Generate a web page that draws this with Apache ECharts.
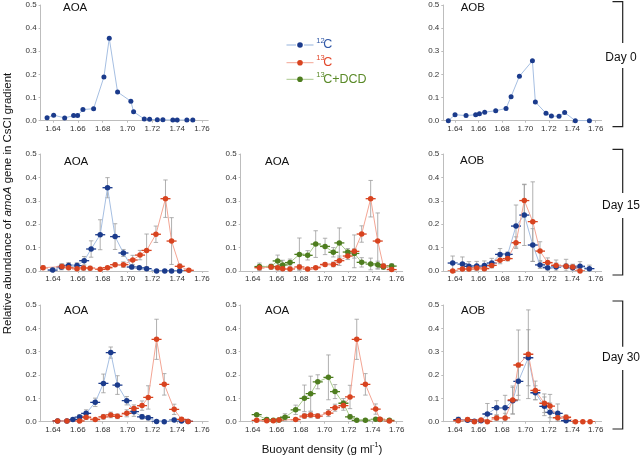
<!DOCTYPE html>
<html><head><meta charset="utf-8">
<script src="https://cdn.jsdelivr.net/npm/echarts@6/dist/echarts.min.js"></script>
<style>html,body{margin:0;padding:0;background:#fff}#c{width:640px;height:456px}</style>
</head><body><div id="c"></div><script>
// ---------- tick labels ----------
const xTicks = [1.64, 1.66, 1.68, 1.70, 1.72, 1.74, 1.76];
const panelTitles = ['AOA', 'AOB', 'AOA', 'AOA', 'AOB', 'AOA', 'AOA', 'AOB'];
const dayLabels = ['Day 0', 'Day 15', 'Day 30'];

// ---------- Day 0, AOA ----------
const d0AOA_12C_x = [1.6352,1.6405,1.6494,1.6566,1.6598,1.6641,1.6727,1.681,1.6853,1.692,1.7027,1.7049,1.7135,1.7178,1.724,1.7285,1.7365,1.740,1.7478,1.7526];
const d0AOA_12C_y = [0.013,0.024,0.012,0.022,0.022,0.048,0.052,0.189,0.356,0.124,0.084,0.039,0.007,0.006,0.004,0.004,0.003,0.003,0.003,0.003];
// ---------- Day 0, AOB ----------
const d0AOB_12C_x = [1.6343,1.640,1.6494,1.6576,1.6608,1.6653,1.6747,1.6835,1.6878,1.6949,1.706,1.7085,1.7176,1.7222,1.7287,1.7335,1.7426,1.7546];
const d0AOB_12C_y = [0.0,0.026,0.022,0.026,0.030,0.037,0.043,0.053,0.104,0.192,0.259,0.081,0.032,0.020,0.019,0.035,0.0,0.0];

// ---------- Day 15, AOA (12C vs 13C) ----------
const d15AOA_12C_x = [1.6397,1.6467,1.6526,1.6593,1.6651,1.6707,1.678,1.6839,1.69,1.6967,1.7034,1.7095,1.7154,1.7234,1.73,1.7355,1.742];
const d15AOA_12C_y = [0.004,0.017,0.024,0.023,0.044,0.094,0.155,0.356,0.147,0.077,0.017,0.014,0.010,0.0,0.0,0.0,0.0];
const d15AOA_12C_e = [0.01,0.012,0.012,0.012,0.018,0.035,0.064,0.043,0.055,0.015,0.008,0.006,0.005,0.003,0.003,0.003,0.003];
const d15AOA_13C_x = [1.632,1.6472,1.6526,1.6593,1.6646,1.6699,1.678,1.6839,1.69,1.6967,1.7042,1.7101,1.7154,1.7229,1.7306,1.7355,1.7421,1.7494];
const d15AOA_13C_y = [0.014,0.019,0.014,0.010,0.013,0.012,0.007,0.014,0.027,0.027,0.047,0.068,0.088,0.157,0.309,0.128,0.020,0.003];
const d15AOA_13C_e = [0.008,0.012,0.008,0.006,0.01,0.008,0.004,0.006,0.008,0.012,0.02,0.02,0.07,0.035,0.08,0.1,0.01,0.004];

// ---------- Day 15, AOA (13C vs 13C+DCD) ----------
const d15DCD_13CDCD_x = [1.6456,1.6553,1.6608,1.665,1.6711,1.6789,1.6858,1.6925,1.7003,1.7072,1.7122,1.7192,1.7247,1.7308,1.7383,1.7442,1.7489,1.7558];
const d15DCD_13CDCD_y = [0.019,0.019,0.043,0.026,0.036,0.071,0.067,0.115,0.105,0.080,0.120,0.081,0.075,0.037,0.030,0.027,0.017,0.021];
const d15DCD_13CDCD_e = [0.015,0.01,0.025,0.02,0.015,0.07,0.02,0.057,0.035,0.02,0.064,0.015,0.02,0.02,0.025,0.015,0.01,0.01];
const d15DCD_13C_x = [1.6456,1.6553,1.6608,1.665,1.6711,1.6789,1.6858,1.6925,1.7003,1.7072,1.7122,1.7192,1.7247,1.7308,1.7383,1.7442,1.7489,1.7558];
const d15DCD_13C_y = [0.014,0.017,0.014,0.010,0.009,0.017,0.009,0.014,0.028,0.028,0.044,0.064,0.084,0.158,0.309,0.128,0.021,0.006];
const d15DCD_13C_e = [0.01,0.01,0.01,0.008,0.006,0.01,0.005,0.006,0.008,0.01,0.02,0.015,0.07,0.035,0.078,0.12,0.01,0.005];

// ---------- Day 15, AOB ----------
const d15AOB_12C_x = [1.638,1.6463,1.6519,1.6585,1.665,1.6713,1.6784,1.6849,1.692,1.6991,1.7063,1.7125,1.719,1.7262,1.7347,1.7404,1.7466,1.7546];
const d15AOB_12C_y = [0.034,0.030,0.020,0.021,0.023,0.034,0.071,0.071,0.192,0.239,0.111,0.026,0.014,0.017,0.020,0.014,0.020,0.010];
const d15AOB_12C_e = [0.03,0.03,0.02,0.02,0.02,0.02,0.025,0.01,0.09,0.13,0.07,0.015,0.015,0.03,0.03,0.015,0.02,0.015];
const d15AOB_13C_x = [1.638,1.6463,1.6519,1.6585,1.665,1.6713,1.6784,1.6849,1.692,1.6991,1.7063,1.7125,1.719,1.7262,1.7347,1.7404,1.7466];
const d15AOB_13C_y = [0.0,0.009,0.009,0.013,0.010,0.024,0.046,0.053,0.121,0.301,0.211,0.085,0.036,0.024,0.020,0.017,0.0];
const d15AOB_13C_e = [0.003,0.008,0.008,0.008,0.006,0.01,0.015,0.01,0.025,0.07,0.17,0.04,0.02,0.01,0.01,0.01,0.003];

// ---------- Day 30, AOA (12C vs 13C) ----------
const d30AOA_12C_x = [1.6437,1.6512,1.656,1.6614,1.6667,1.674,1.6806,1.6865,1.6919,1.6994,1.7052,1.7117,1.7167,1.7234,1.7296,1.7376,1.7435,1.7488];
const d30AOA_12C_y = [0.003,0.003,0.009,0.020,0.036,0.083,0.164,0.296,0.157,0.090,0.043,0.021,0.017,0.001,0.0,0.007,0.003,0.001];
const d30AOA_12C_e = [0.004,0.004,0.006,0.01,0.015,0.018,0.04,0.024,0.04,0.018,0.02,0.01,0.01,0.003,0.003,0.008,0.004,0.003];
const d30AOA_13C_x = [1.6437,1.6512,1.6614,1.6667,1.674,1.6806,1.6865,1.6919,1.6994,1.7052,1.7117,1.7167,1.7234,1.7296,1.7376,1.7435,1.7488];
const d30AOA_13C_y = [0.003,0.003,0.003,0.019,0.009,0.021,0.029,0.023,0.036,0.057,0.069,0.104,0.353,0.160,0.053,0.010,0.001];
const d30AOA_13C_e = [0.003,0.003,0.003,0.01,0.005,0.01,0.012,0.01,0.015,0.015,0.02,0.05,0.086,0.046,0.022,0.008,0.003];

// ---------- Day 30, AOA (13C vs 13C+DCD) ----------
const d30DCD_13CDCD_x = [1.6433,1.6517,1.6572,1.6619,1.6669,1.6758,1.6831,1.6883,1.6942,1.7031,1.7086,1.7156,1.7211,1.7267,1.7339,1.7425,1.7461,1.7539];
const d30DCD_13CDCD_y = [0.030,0.009,0.006,0.007,0.019,0.051,0.100,0.120,0.171,0.190,0.129,0.079,0.021,0.006,0.006,0.010,0.009,0.006];
const d30DCD_13CDCD_e = [0.005,0.008,0.005,0.005,0.015,0.02,0.057,0.075,0.03,0.096,0.03,0.02,0.01,0.005,0.005,0.005,0.005,0.005];
const d30DCD_13C_x = [1.6433,1.6517,1.6572,1.6619,1.6758,1.6831,1.6883,1.6942,1.7031,1.7086,1.7156,1.7211,1.7267,1.7339,1.7425,1.7461,1.7539];
const d30DCD_13C_y = [0.006,0.004,0.004,0.007,0.009,0.024,0.029,0.024,0.037,0.060,0.069,0.106,0.353,0.160,0.054,0.010,0.003];
const d30DCD_13C_e = [0.003,0.003,0.003,0.004,0.005,0.01,0.012,0.01,0.015,0.015,0.02,0.05,0.086,0.046,0.022,0.008,0.003];

// ---------- Day 30, AOB ----------
const d30AOB_12C_x = [1.6428,1.6507,1.6565,1.6622,1.6676,1.6755,1.6827,1.6892,1.694,1.7025,1.7085,1.7162,1.721,1.7276,1.7347];
const d30AOB_12C_y = [0.009,0.006,0.002,0.004,0.033,0.060,0.060,0.090,0.173,0.274,0.124,0.066,0.040,0.036,0.004];
const d30AOB_12C_e = [0.01,0.006,0.003,0.004,0.045,0.03,0.053,0.057,0.06,0.12,0.03,0.04,0.04,0.04,0.004];
const d30AOB_13C_x = [1.6428,1.6507,1.6565,1.6622,1.6676,1.6755,1.6827,1.6892,1.694,1.7025,1.7085,1.7162,1.721,1.7276,1.7347,1.7427,1.749,1.7552];
const d30AOB_13C_y = [0.004,0.009,0.0,0.007,0.0,0.016,0.016,0.093,0.243,0.289,0.134,0.079,0.067,0.017,0.019,0.0,0.0,0.0];
const d30AOB_13C_e = [0.004,0.008,0.002,0.006,0.002,0.01,0.02,0.06,0.15,0.19,0.04,0.04,0.05,0.01,0.01,0.002,0.002,0.002];

// ---------- styles ----------
const FONT = "'Liberation Sans', Arial, sans-serif";
const STY = {
  '12C':     {mark:'#1b3b8c', line:'#a6bfe2', text:'#2f57a6'},
  '13C':     {mark:'#d8431f', line:'#f3a594', text:'#e2472a'},
  '13C+DCD': {mark:'#4e7d1f', line:'#a9c98c', text:'#5a8a28'}
};
const ERR_COLOR = '#9c9c9c';

const grids = [
  {left:40.6, top:5,   width:167.6, height:115.7},
  {left:443.3,top:5,   width:158.3, height:115.7},
  {left:40.6, top:154, width:167.6, height:117},
  {left:240.7,top:154, width:162,   height:117},
  {left:443.3,top:154, width:158.3, height:117},
  {left:40.6, top:305, width:167.6, height:116.7},
  {left:240.7,top:305, width:162,   height:116.7},
  {left:443.3,top:305, width:158.3, height:116.7}
];
const titlePos = [[63,8.5],[460.7,8.5],[64,162],[265,162],[460,161],[64,311.7],[265,311.5],[461,311.7]];

const panels = [
  [{k:'12C', x:d0AOA_12C_x, y:d0AOA_12C_y}],
  [{k:'12C', x:d0AOB_12C_x, y:d0AOB_12C_y}],
  [{k:'12C', x:d15AOA_12C_x, y:d15AOA_12C_y, e:d15AOA_12C_e},{k:'13C', x:d15AOA_13C_x, y:d15AOA_13C_y, e:d15AOA_13C_e}],
  [{k:'13C+DCD', x:d15DCD_13CDCD_x, y:d15DCD_13CDCD_y, e:d15DCD_13CDCD_e},{k:'13C', x:d15DCD_13C_x, y:d15DCD_13C_y, e:d15DCD_13C_e}],
  [{k:'12C', x:d15AOB_12C_x, y:d15AOB_12C_y, e:d15AOB_12C_e},{k:'13C', x:d15AOB_13C_x, y:d15AOB_13C_y, e:d15AOB_13C_e}],
  [{k:'12C', x:d30AOA_12C_x, y:d30AOA_12C_y, e:d30AOA_12C_e},{k:'13C', x:d30AOA_13C_x, y:d30AOA_13C_y, e:d30AOA_13C_e}],
  [{k:'13C+DCD', x:d30DCD_13CDCD_x, y:d30DCD_13CDCD_y, e:d30DCD_13CDCD_e},{k:'13C', x:d30DCD_13C_x, y:d30DCD_13C_y, e:d30DCD_13C_e}],
  [{k:'12C', x:d30AOB_12C_x, y:d30AOB_12C_y, e:d30AOB_12C_e},{k:'13C', x:d30AOB_13C_x, y:d30AOB_13C_y, e:d30AOB_13C_e}]
];

function errRender(color){
  return function(params, api){
    const x = api.value(0), y = api.value(1), e = api.value(2);
    const p = api.coord([x, y]);
    const hi = api.coord([x, y + e]);
    const lo = api.coord([x, Math.max(0, y - e)]);
    const cap = 2.2, hw = 5;
    const gs = {stroke: ERR_COLOR, lineWidth: 0.8};
    return {type:'group', children:[
      {type:'line', shape:{x1:p[0], y1:hi[1], x2:p[0], y2:lo[1]}, style:gs},
      {type:'line', shape:{x1:p[0]-cap, y1:hi[1], x2:p[0]+cap, y2:hi[1]}, style:gs},
      {type:'line', shape:{x1:p[0]-cap, y1:lo[1], x2:p[0]+cap, y2:lo[1]}, style:gs},
      {type:'line', shape:{x1:p[0]-hw, y1:p[1], x2:p[0]+hw, y2:p[1]}, style:{stroke:color, lineWidth:1.3}}
    ]};
  };
}

const xAxis = [], yAxis = [], series = [];
grids.forEach((g, i) => {
  xAxis.push({
    type:'value', gridIndex:i, min:1.63, max:1.765,
    axisLine:{show:true, onZero:false, lineStyle:{color:'#bdbdbd', width:1}},
    axisTick:{show:true, length:2, customValues:xTicks, lineStyle:{color:'#bdbdbd'}},
    axisLabel:{customValues:xTicks, formatter:v => v.toFixed(2), fontSize:8, color:'#333', margin:4, fontFamily:FONT},
    splitLine:{show:false}
  });
  yAxis.push({
    type:'value', gridIndex:i, min:0, max:0.5, interval:0.1,
    axisLine:{show:true, lineStyle:{color:'#bdbdbd', width:1}},
    axisTick:{show:true, length:2, lineStyle:{color:'#bdbdbd'}},
    axisLabel:{formatter:v => v.toFixed(1), fontSize:8, color:'#333', margin:4, fontFamily:FONT},
    splitLine:{show:false}
  });
  panels[i].forEach(s => {
    const st = STY[s.k];
    if (s.e) {
      series.push({
        type:'custom', xAxisIndex:i, yAxisIndex:i, z:3, clip:true,
        encode:{x:0, y:1}, silent:true,
        data:s.x.map((v, j) => [v, s.y[j], s.e[j]]),
        renderItem:errRender(st.mark)
      });
    }
    series.push({
      type:'line', xAxisIndex:i, yAxisIndex:i, z:4,
      data:s.x.map((v, j) => [v, s.y[j]]),
      symbol:'circle', symbolSize: s.e ? 5.5 : 5, showAllSymbol:true,
      itemStyle:{color:st.mark}, lineStyle:{color:st.line, width:1},
      animation:false
    });
  });
});

const graphic = [];
// panel titles
titlePos.forEach((p, i) => {
  graphic.push({type:'text', left:p[0], top:p[1]-6.5, style:{text:panelTitles[i], fontSize:11.5, fill:'#111', fontFamily:FONT}});
});
// legend
const legendRows = [['12C', 45], ['13C', 62.7], ['13C+DCD', 79.3]];
legendRows.forEach(([k, y]) => {
  const st = STY[k];
  if (k === '12C') {
    graphic.push({type:'line', shape:{x1:286.5, y1:y, x2:296, y2:y}, style:{stroke:st.line, lineWidth:1.2}});
    graphic.push({type:'line', shape:{x1:304, y1:y, x2:313.5, y2:y}, style:{stroke:st.line, lineWidth:1.2}});
  } else {
    graphic.push({type:'line', shape:{x1:286.5, y1:y, x2:313.5, y2:y}, style:{stroke:st.line, lineWidth:1}});
  }
  graphic.push({type:'circle', shape:{cx:300, cy:y, r:2.8}, style:{fill:st.mark}});
  const sup = k.slice(0, 2), rest = k.slice(2);
  graphic.push({type:'text', x:316.3, y:y-4.5, style:{text:sup, fontSize:7.5, fill:st.text, fontFamily:FONT, verticalAlign:'middle'}});
  graphic.push({type:'text', x:323.2, y:y, style:{text:rest, fontSize:12.5, fill:st.text, fontFamily:FONT, verticalAlign:'middle'}});
});
// day brackets
const brackets = [[1.7, 43, 68, 126.7, 58], [149.3, 193, 218, 275, 205.7], [301, 346.7, 370, 429, 357.7]];
brackets.forEach((b, i) => {
  const bx = 622.7, lx = 612.5;
  const ls = {stroke:'#222', lineWidth:1.2};
  graphic.push({type:'polyline', shape:{points:[[lx, b[0]], [bx, b[0]], [bx, b[1]]]}, style:Object.assign({fill:null}, ls)});
  graphic.push({type:'polyline', shape:{points:[[bx, b[2]], [bx, b[3]], [lx, b[3]]]}, style:Object.assign({fill:null}, ls)});
  graphic.push({type:'text', x:621, y:b[4], style:{text:dayLabels[i], fontSize:12, fill:'#111', fontFamily:FONT, align:'center', verticalAlign:'middle'}});
});
// axis titles
graphic.push({type:'text', x:7.5, y:203.5, rotation:Math.PI/2,
  style:{text:'{n|Relative abundance of }{i|amoA}{n| gene in CsCl gradient}', align:'center', verticalAlign:'middle', fill:'#111',
    rich:{n:{fontSize:11.5, fontFamily:FONT, fill:'#111'}, i:{fontSize:11.5, fontFamily:FONT, fontStyle:'italic', fill:'#111'}}}});
graphic.push({type:'text', x:322, y:449,
  style:{text:'{n|Buoyant density (g ml}{s|-1}{n|)}', align:'center', verticalAlign:'middle', fill:'#111',
    rich:{n:{fontSize:11.5, fontFamily:FONT, fill:'#111', lineHeight:14, verticalAlign:'bottom'}, s:{fontSize:7, fontFamily:FONT, fill:'#111', lineHeight:14, verticalAlign:'top'}}}});

const chart = echarts.init(document.getElementById('c'), null, {renderer:'canvas'});
chart.setOption({
  animation:false,
  backgroundColor:'#fff',
  grid:grids.map(g => Object.assign({containLabel:false}, g)),
  xAxis, yAxis, series, graphic
});
</script></body></html>
